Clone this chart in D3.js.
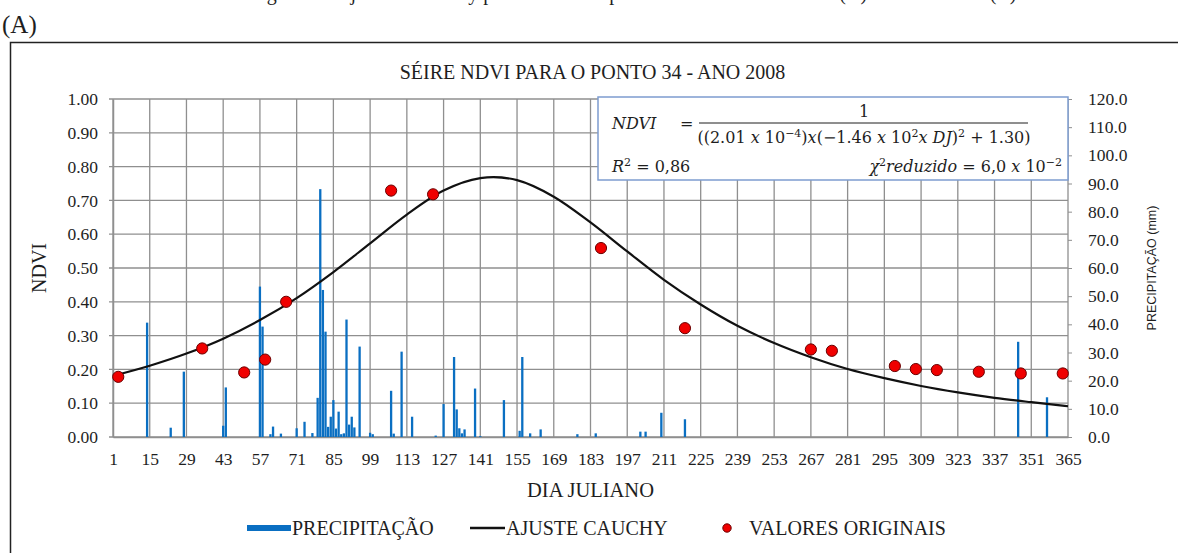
<!DOCTYPE html>
<html><head><meta charset="utf-8">
<script src="https://cdn.jsdelivr.net/npm/d3@7"></script>
<style>
body{margin:0;background:#fff;}
svg{display:block;}
svg text{font-family:"Liberation Serif","Times New Roman",serif;fill:#1e1e1e;}
</style></head><body>
<svg id="chart" width="1178" height="553"></svg>
<script>
// tick labels
var xTicks = [1,15,29,43,57,71,85,99,113,127,141,155,169,183,197,211,225,239,253,267,281,295,309,323,337,351,365];
var ndviTicks = [0,0.1,0.2,0.3,0.4,0.5,0.6,0.7,0.8,0.9,1.0];
var rainTicks = [0,10,20,30,40,50,60,70,80,90,100,110,120];
// daily rain (mm)
var rainDays = [14,23,28,43,44,57,58,61,62,65,71,74,77,79,80,81,82,83,84,85,86,87,88,89,90,91,92,93,95,99,100,107,108,111,115,124,127,131,132,133,134,135,139,141,150,156,157,160,164,178,185,202,204,210,219,346,357];
var rainMm   = [40.6,3.3,23.2,4.0,17.6,53.4,39.2,1.0,3.7,1.2,3.1,5.4,1.4,13.9,88.0,52.2,37.4,3.6,7.2,13.1,3.0,9.0,1.0,1.3,41.7,4.4,7.2,3.4,32.1,1.5,1.0,16.4,1.2,30.3,7.2,0.5,11.7,28.4,9.8,3.1,1.3,2.7,17.2,0.3,13.1,2.2,28.4,1.3,2.7,1.0,1.3,1.9,1.9,8.6,6.3,33.8,14.1];
// original NDVI values (red dots)
var obsDays = [3,35,51,59,67,107,123,187,219,267,275,299,307,315,331,347,363];
var obsNdvi = [0.178,0.262,0.191,0.229,0.400,0.729,0.718,0.559,0.322,0.259,0.255,0.210,0.201,0.198,0.193,0.188,0.188];
// Cauchy fit curve, read at the grid days
var fitDays = [1,15,29,43,57,71,85,99,113,127,141,146,155,169,183,197,211,225,239,253,267,281,295,309,323,337,351,365];
var fitNdvi = [0.181,0.211,0.247,0.291,0.346,0.411,0.488,0.573,0.658,0.729,0.766,0.769,0.760,0.711,0.635,0.549,0.465,0.392,0.329,0.278,0.236,0.201,0.174,0.151,0.132,0.116,0.103,0.091];

var m = {l:113, r:1068, t:99, b:437};
var svg = d3.select("#chart");
var x = d3.scaleLinear().domain([1,365]).range([m.l,m.r]),
    y = d3.scaleLinear().domain([0,1]).range([m.b,m.t]),
    y2 = d3.scaleLinear().domain([0,120]).range([m.b,m.t]);

// caption line of the page, cut by the top edge as in the source
svg.append("text").attr("x",250).attr("y",-0.5).style("font-size","20px")
    .text("Figura 5 – Ajuste de Cauchy para a série temporal do NDVI no ano 2008 (A) e no ano 2009 (B)");
svg.append("text").attr("x",2).attr("y",33).style("font-size","25px").text("(A)");

// panel frame
svg.append("path").attr("d","M10.5,553V42.5H1178").attr("fill","none")
    .attr("stroke","#222").attr("stroke-width",1.5);

svg.append("text").attr("x",(m.l+m.r)/2 + 2).attr("y",79).attr("text-anchor","middle")
    .style("font-size","20px").text("SÉIRE NDVI PARA O PONTO 34 - ANO 2008");

// grid
var grid = svg.append("g").attr("stroke","#8f8f8f").attr("stroke-width",1.3);
grid.selectAll("line.v").data(xTicks).enter().append("line")
    .attr("x1",x).attr("x2",x).attr("y1",m.t).attr("y2",m.b);
grid.selectAll("line.h").data(ndviTicks).enter().append("line")
    .attr("x1",m.l-4).attr("x2",m.r).attr("y1",y).attr("y2",y);

// axes
var ax = svg.append("g").attr("transform","translate("+m.l+",0)")
    .call(d3.axisLeft(y).tickValues(ndviTicks).tickFormat(d3.format(".2f")).tickSize(0).tickPadding(15));
var bx = svg.append("g").attr("transform","translate(0,"+m.b+")")
    .call(d3.axisBottom(x).tickValues(xTicks).tickSize(0).tickPadding(16));
var rx = svg.append("g").attr("transform","translate("+m.r+",0)")
    .call(d3.axisRight(y2).tickValues(rainTicks).tickFormat(d3.format(".1f")).tickSize(4).tickPadding(16));
[ax,bx,rx].forEach(function(a){
    a.attr("font-family",null).attr("font-size",null);
    a.selectAll("text").style("font-size","17.5px");
    a.select(".domain").attr("stroke","#8f8f8f").attr("stroke-width",1.5);
    a.selectAll(".tick line").attr("stroke","#8f8f8f");
});
rx.select(".domain").remove();

// bars
svg.append("g").attr("fill","#0a6fc2").selectAll("rect")
    .data(rainDays.map(function(d,i){return {d:d,v:rainMm[i]};})).enter().append("rect")
    .attr("x",function(p){return x(p.d)-1.15;}).attr("width",2.3)
    .attr("y",function(p){return y2(p.v);})
    .attr("height",function(p){return m.b-y2(p.v);});

// fit curve
var line = d3.line().x(function(p){return x(p[0]);}).y(function(p){return y(p[1]);}).curve(d3.curveMonotoneX);
svg.append("path").datum(fitDays.map(function(d,i){return [d,fitNdvi[i]];}))
    .attr("d",line).attr("fill","none").attr("stroke","#111").attr("stroke-width",2.2);

// original values
svg.append("g").selectAll("circle").data(obsDays.map(function(d,i){return [d,obsNdvi[i]];})).enter()
    .append("circle").attr("cx",function(p){return x(p[0]);}).attr("cy",function(p){return y(p[1]);})
    .attr("r",5.6).attr("fill","#f00000").attr("stroke","#6b0000").attr("stroke-width",1);

// equation box
var eq = svg.append("g");
eq.append("rect").attr("x",598).attr("y",97).attr("width",470).attr("height",83)
    .attr("fill","#fff").attr("stroke","#7d9ccf").attr("stroke-width",1.5);
function mtext(g, xx, yy, anchor, parts){
    var t = g.append("text").attr("x",xx).attr("y",yy).attr("text-anchor",anchor)
        .style("font-family","'DejaVu Serif',serif").style("font-size","16px");
    parts.forEach(function(p){
        var s = t.append("tspan").text(p[0]);
        if (p[1]==="i") s.style("font-style","italic");
        if (p[1]==="sup") s.attr("dy",-6).style("font-size","11px");
        if (p[2]) s.attr("dy",p[2]);
    });
    return t;
}
mtext(eq,612,129,"start",[["NDVI","i"]]);
mtext(eq,680,129,"start",[["="]]);
mtext(eq,864,117,"middle",[["1"]]);
eq.append("line").attr("x1",699).attr("x2",1028).attr("y1",123).attr("y2",123).attr("stroke","#1e1e1e").attr("stroke-width",1);
mtext(eq,864,143,"middle",[["((2.01 "],["x","i"],[" 10"],["−4","sup"],[")",null,6],["x","i"],["(−1.46 "],["x","i"],[" 10"],["2","sup"],["x","i",6],[" DJ","i"],[")"],["2","sup"],[" + 1.30)",null,6]]);
mtext(eq,612,172,"start",[["R","i"],["2","sup"],[" = 0,86",null,6]]);
mtext(eq,1062,172,"end",[["χ","i"],["2","sup"],["reduzido","i",6],[" = 6,0 "],["x","i"],[" 10"],["−2","sup"]]);

// axis titles
svg.append("text").attr("transform","translate(46,268) rotate(-90)").attr("text-anchor","middle")
    .style("font-size","20px").text("NDVI");
svg.append("text").attr("transform","translate(1156,268) rotate(-90)").attr("text-anchor","middle")
    .style("font-family","'Liberation Sans',Arial,sans-serif").style("font-size","12.5px").text("PRECIPITAÇÃO (mm)");
svg.append("text").attr("x",(m.l+m.r)/2).attr("y",497).attr("text-anchor","middle")
    .style("font-size","20.5px").text("DIA JULIANO");

// legend
var lg = svg.append("g").style("font-size","20px");
lg.append("rect").attr("x",247).attr("y",525).attr("width",44).attr("height",6).attr("fill","#0a6fc2");
lg.append("text").attr("x",292).attr("y",535).text("PRECIPITAÇÃO");
lg.append("line").attr("x1",470).attr("x2",505).attr("y1",528).attr("y2",528).attr("stroke","#111").attr("stroke-width",2.5);
lg.append("text").attr("x",506).attr("y",535).text("AJUSTE CAUCHY");
lg.append("circle").attr("cx",727).attr("cy",528).attr("r",4.2).attr("fill","#f00000").attr("stroke","#6b0000");
lg.append("text").attr("x",749).attr("y",535).text("VALORES ORIGINAIS");
</script>
</body></html>
